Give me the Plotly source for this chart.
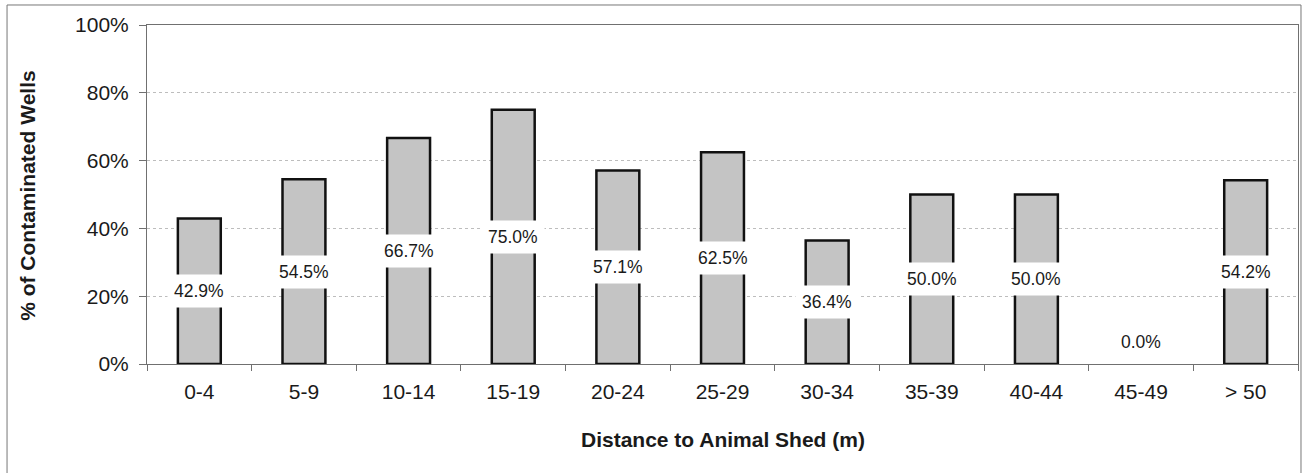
import plotly.graph_objects as go

categories = ["0-4", "5-9", "10-14", "15-19", "20-24", "25-29", "30-34", "35-39", "40-44", "45-49", "> 50"]
values = [42.9, 54.5, 66.7, 75.0, 57.1, 62.5, 36.4, 50.0, 50.0, 0.0, 54.2]
y_ticks = [0, 20, 40, 60, 80, 100]
y_tick_labels = ["0%", "20%", "40%", "60%", "80%", "100%"]

FONT = "Liberation Sans, Arial, Helvetica, sans-serif"
TXT = "#1a1a1a"

fig = go.Figure()
fig.add_trace(go.Bar(
    x=categories, y=values,
    marker=dict(color="#c4c4c4",
                line=dict(color="#111111", width=[0 if v == 0 else 2.5 for v in values])),
    hoverinfo="x+y",
))

for c, v in zip(categories, values):
    fig.add_annotation(
        x=c, y=v / 2, xref="x", yref="y",
        text=f"{v:.1f}%", showarrow=False,
        font=dict(family=FONT, size=17.5, color=TXT),
        bgcolor="white", borderpad=6,
        yshift=22 if v == 0 else 0,
    )

# axis titles
fig.add_annotation(x=0.5, y=-0.224, xref="paper", yref="paper",
                   text="<b>Distance to Animal Shed (m)</b>", showarrow=False,
                   font=dict(family=FONT, size=21, color=TXT), yanchor="middle")
fig.add_annotation(x=-0.104, y=0.497, xref="paper", yref="paper",
                   text="<b>% of Contaminated Wells</b>", showarrow=False, textangle=-90,
                   font=dict(family=FONT, size=21, color=TXT), xanchor="center", yanchor="middle")

# outer chart border
fig.add_shape(type="rect", xref="paper", yref="paper",
              x0=-0.1216, x1=1.0026, y0=-0.36, y1=1.059,
              line=dict(color="#777777", width=1), fillcolor="rgba(0,0,0,0)")

fig.update_layout(
    width=1302, height=473,
    margin=dict(l=147, r=4, t=25, b=109),
    plot_bgcolor="white", paper_bgcolor="white",
    bargap=0.59, showlegend=False,
    font=dict(family=FONT, color=TXT),
)
fig.update_xaxes(
    type="category", showline=True, linecolor="#707070", linewidth=1, mirror=True,
    ticks="outside", ticklen=6, tickcolor="#707070", tickson="boundaries",
    tickfont=dict(family=FONT, size=21, color=TXT), ticklabelstandoff=9,
    showgrid=False,
)
fig.update_yaxes(
    range=[0, 100], tickvals=y_ticks, ticktext=y_tick_labels,
    showline=True, linecolor="#707070", linewidth=1, mirror=True,
    ticks="outside", ticklen=7, tickcolor="#707070",
    tickfont=dict(family=FONT, size=21, color=TXT), ticklabelstandoff=6,
    showgrid=True, gridcolor="#bdbdbd", griddash="dot", gridwidth=1,
    zeroline=False,
)

fig.write_html("out.html", config={"displayModeBar": False},
               post_script="document.body.style.margin='0px';")
